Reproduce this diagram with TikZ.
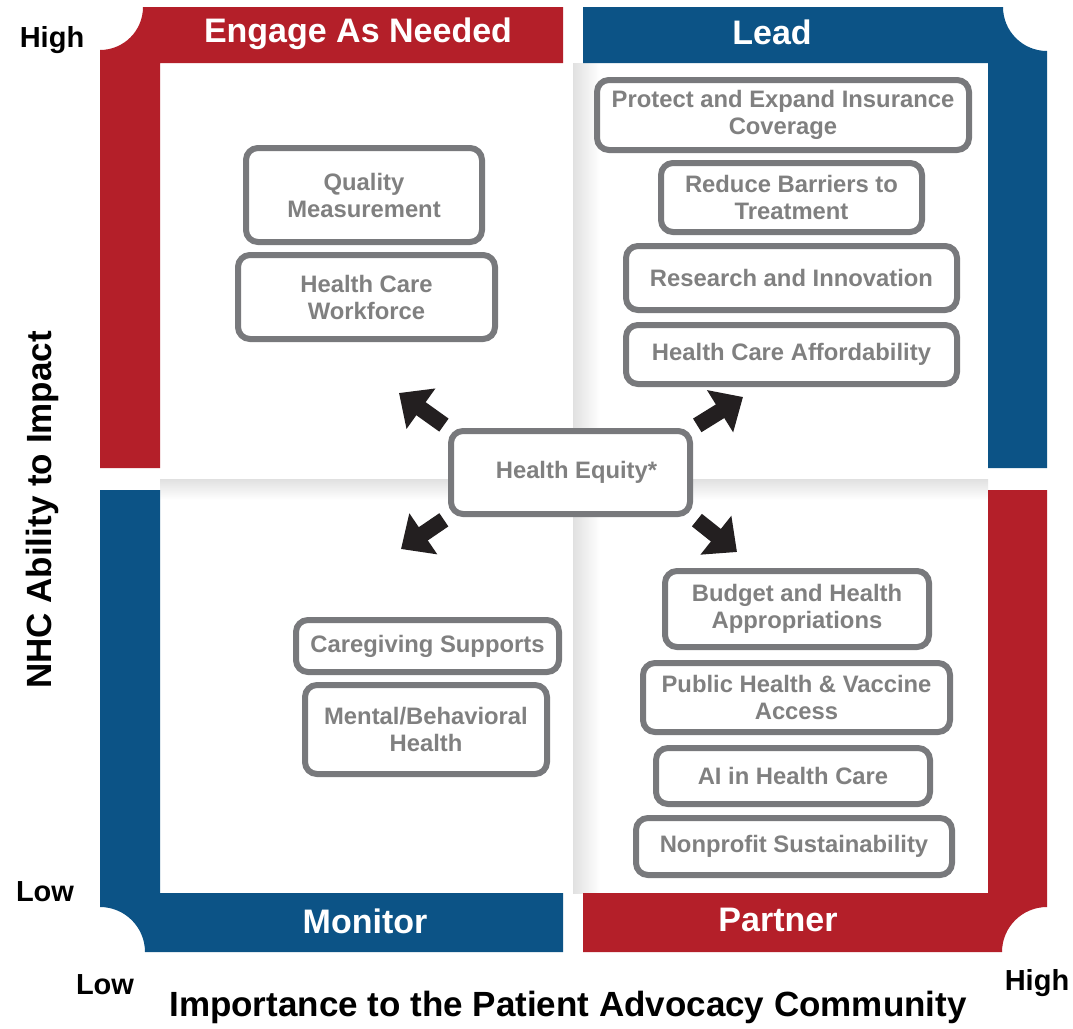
\documentclass[tikz,border=0pt]{standalone}
\usepackage{fontspec}
\setmainfont{Liberation Sans}
\usetikzlibrary{arrows.meta}
\definecolor{qred}{RGB}{180,31,41}
\definecolor{qblue}{RGB}{12,83,134}
\definecolor{boxgray}{RGB}{120,121,124}
\definecolor{txtgray}{RGB}{128,128,128}
\definecolor{arrowblack}{RGB}{35,31,32}
\tikzset{
  itembox/.style={draw=boxgray, line width=6pt, rounded corners=12pt, fill=white,
    text=txtgray, font=\bfseries\fontsize{23.8}{27}\selectfont, align=center, inner sep=0pt},
  quadlabel/.style={text=white, font=\bfseries\fontsize{34}{37}\selectfont},
  axislabel/.style={text=black, font=\bfseries\fontsize{35}{38}\selectfont},
  endlabel/.style={text=black, font=\bfseries\fontsize{29}{32}\selectfont},
  bigarrow/.style={draw=arrowblack, line width=16pt, shorten <=5pt,
    -{Triangle[length=27pt,width=48pt]}}
}
\begin{document}
\begin{tikzpicture}[x=1pt,y=1pt]
\useasboundingbox (0,0) rectangle (1073,-1028);
\fill[white] (0,0) rectangle (1073,-1028);
% faint shadows along the centre cross
\shade[left color=black!12, right color=white] (573,-63) rectangle (600,-893);
\shade[top color=black!12, bottom color=white] (160,-479) rectangle (988,-500);
% quadrant bands
\fill[qred] (100,-468) -- (100,-50) arc[start angle=-90,end angle=0,radius=43]
  -- (563,-7) -- (563,-63) -- (160,-63) -- (160,-468) -- cycle;
\fill[qblue] (583,-7) -- (1003,-7) arc[start angle=180,end angle=270,radius=44]
  -- (1047,-468) -- (988,-468) -- (988,-63) -- (583,-63) -- cycle;
\fill[qblue] (100,-490) -- (160,-490) -- (160,-893) -- (563,-893) -- (563,-952)
  -- (145,-952) arc[start angle=0,end angle=90,radius=45] -- cycle;
\fill[qred] (988,-490) -- (1047,-490) -- (1047,-907)
  arc[start angle=90,end angle=180,radius=45] -- (583,-952) -- (583,-893)
  -- (988,-893) -- cycle;
% quadrant labels
\node[quadlabel] (lEngage) at (358,-34) {Engage As Needed};
\node[quadlabel] (lLead) at (772,-32) {Lead};
\node[quadlabel] (lMonitor) at (365,-921) {Monitor};
\node[quadlabel] (lPartner) at (778,-920) {Partner};
% axis labels
\node[endlabel] (hiY) at (52,-40) {High};
\node[endlabel] (loY) at (45,-892) {Low};
\node[endlabel] (loX) at (105,-985) {Low};
\node[endlabel] (hiX) at (1037,-983) {High};
\node[axislabel, rotate=90] (yaxis) at (42,-510) {NHC Ability to Impact};
\node[axislabel] (xaxis) at (568,-1007) {Importance to the Patient Advocacy Community};
% items
\node[itembox, minimum width=236pt, minimum height=94pt] (qm) at (364,-195) {Quality\\Measurement};
\node[itembox, minimum width=257pt, minimum height=84pt] (hcw) at (366.5,-297) {Health Care\\Workforce};
\node[itembox, minimum width=372pt, minimum height=70pt] (pei) at (783,-115) {Protect and Expand Insurance\\Coverage};
\node[itembox, minimum width=261pt, minimum height=69pt] (rbt) at (791.5,-197.5) {Reduce Barriers to\\Treatment};
\node[itembox, minimum width=331pt, minimum height=64pt] (ri) at (791.5,-278) {Research and Innovation};
\node[itembox, minimum width=331pt, minimum height=59pt] (hca) at (791.5,-354.5) {Health Care Affordability};
\node[itembox, minimum width=239pt, minimum height=83pt] (he) at (570.5,-472.5) {\hspace*{12pt}Health Equity*};
\node[itembox, minimum width=263pt, minimum height=52pt] (cs) at (427.5,-646) {Caregiving Supports};
\node[itembox, minimum width=242pt, minimum height=89pt] (mbh) at (426,-729.5) {Mental/Behavioral\\Health};
\node[itembox, minimum width=264pt, minimum height=76pt] (bha) at (797,-609) {Budget and Health\\Appropriations};
\node[itembox, minimum width=307pt, minimum height=69pt] (phv) at (796.5,-697.5) {Public Health \& Vaccine\\Access};
\node[itembox, minimum width=274pt, minimum height=56pt] (ai) at (793,-776) {AI in Health Care};
\node[itembox, minimum width=316pt, minimum height=57pt] (ns) at (794,-846.5) {Nonprofit Sustainability};
% arrows
\coordinate (tUL) at (399,-393);
\coordinate (tUR) at (743,-397);
\coordinate (tLL) at (401,-549);
\coordinate (tLR) at (737,-552);
\draw[bigarrow] (he.north west) -- (tUL);
\draw[bigarrow] (he.north east) -- (tUR);
\draw[bigarrow] (he.south west) -- (tLL);
\draw[bigarrow] (he.south east) -- (tLR);
\end{tikzpicture}
\end{document}
